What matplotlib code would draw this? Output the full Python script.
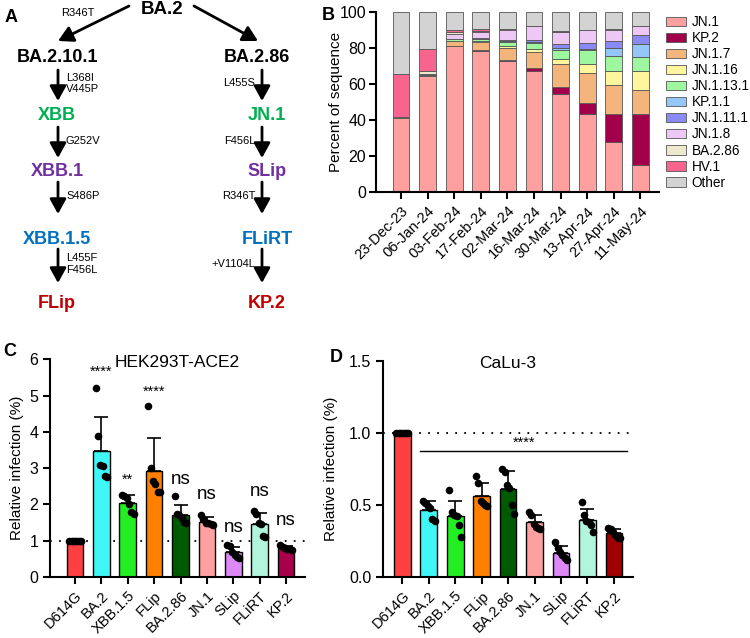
import matplotlib
matplotlib.use("Agg")
import matplotlib.pyplot as plt
import numpy as np

plt.rcParams['font.family'] = ['Liberation Sans', 'DejaVu Sans']

# ---------------- Panel B data ----------------
dates = ["23-Dec-23", "06-Jan-24", "03-Feb-24", "17-Feb-24", "02-Mar-24",
         "16-Mar-24", "30-Mar-24", "13-Apr-24", "27-Apr-24", "11-May-24"]
lineages = ["JN.1", "KP.2", "JN.1.7", "JN.1.16", "JN.1.13.1", "KP.1.1",
            "JN.1.11.1", "JN.1.8", "BA.2.86", "HV.1", "Other"]
lineage_colors = ["#FFA0A0", "#A3004C", "#F4B57C", "#FFF59C", "#9EF79E", "#94C6F8",
                  "#8A8AF5", "#EEC8F5", "#EEE8CC", "#F7658F", "#D3D3D3"]
jn1      = [41.1, 64.3, 81.0, 78.5, 73.0, 67.4, 54.4, 43.3, 27.8, 15.2]
kp2      = [0.0, 0.2, 0.0, 0.3, 0.2, 1.5, 3.7, 6.3, 15.5, 28.3]
jn17     = [0.0, 0.5, 2.8, 4.5, 7.0, 8.9, 13.0, 16.5, 16.0, 13.2]
jn116    = [0.0, 0.1, 0.3, 0.5, 0.8, 1.8, 2.8, 5.2, 7.7, 10.3]
jn1131   = [0.0, 0.1, 0.8, 1.0, 2.5, 3.0, 4.8, 7.8, 8.4, 7.8]
kp11     = [0.0, 0.0, 0.0, 0.2, 0.3, 0.7, 1.3, 0.4, 4.4, 7.4]
jn1111   = [0.0, 0.1, 0.3, 0.3, 0.8, 1.0, 2.4, 3.4, 4.1, 5.2]
jn18     = [0.0, 0.5, 2.5, 3.5, 5.5, 7.7, 6.5, 7.0, 6.3, 4.6]
ba286    = [0.6, 1.5, 1.0, 0.5, 0.2, 0.2, 0.2, 0.1, 0.1, 0.1]
hv1      = [24.0, 12.2, 1.5, 1.2, 0.2, 0.2, 0.1, 0.1, 0.1, 0.1]
series_b = [jn1, kp2, jn17, jn116, jn1131, kp11, jn1111, jn18, ba286, hv1]
other = [100 - sum(s[i] for s in series_b) for i in range(len(dates))]
series_b.append(other)

# ---------------- Panel C / D data ----------------
variants = ["D614G", "BA.2", "XBB.1.5", "FLip", "BA.2.86", "JN.1", "SLip", "FLiRT", "KP.2"]
colors_c = ["#FF4040", "#40F7F7", "#22EE22", "#FF8000", "#005A00", "#FFA0A0",
            "#DD88F5", "#B0F5DC", "#A8004A"]
colors_d = ["#FF4040", "#40F7F7", "#22EE22", "#FF8000", "#005A00", "#FFA0A0",
            "#DD88F5", "#B0F5DC", "#A00000"]
hek_points = [
    [1.0, 1.0, 1.0, 1.0, 1.0, 1.0],
    [5.22, 3.88, 3.08, 3.05, 2.78, 2.75],
    [2.27, 2.22, 2.18, 2.0, 1.78, 1.75],
    [4.70, 3.00, 2.65, 2.55, 2.35, 2.33],
    [2.22, 1.75, 1.70, 1.62, 1.52, 1.50],
    [1.72, 1.60, 1.50, 1.48, 1.45, 1.42],
    [0.87, 0.85, 0.70, 0.62, 0.55, 0.52],
    [1.82, 1.73, 1.50, 1.45, 1.12, 1.10],
    [0.87, 0.82, 0.80, 0.78, 0.76, 0.75],
]
hek_sig = ["", "****", "**", "****", "ns", "ns", "ns", "ns", "ns"]
calu_points = [
    [1.0, 1.0, 1.0, 1.0, 1.0, 1.0],
    [0.53, 0.51, 0.49, 0.48, 0.40, 0.39],
    [0.60, 0.45, 0.43, 0.42, 0.36, 0.28],
    [0.70, 0.65, 0.53, 0.51, 0.50, 0.49],
    [0.75, 0.73, 0.64, 0.62, 0.50, 0.44],
    [0.45, 0.43, 0.37, 0.35, 0.34, 0.33],
    [0.24, 0.20, 0.17, 0.15, 0.13, 0.12],
    [0.52, 0.43, 0.39, 0.38, 0.36, 0.31],
    [0.34, 0.33, 0.31, 0.29, 0.27, 0.27],
]

W, H = 750, 638
fig = plt.figure(figsize=(7.5, 6.38), dpi=100)


def fx(x):
    return x / W


def fy(y):
    return 1 - y / H


# ---------------- Panel A: tree ----------------
def txt(x, y, s, **kw):
    fig.text(fx(x), fy(y), s, **kw)


def arrow(x0, y0, x1, y1):
    fig.add_artist(matplotlib.patches.FancyArrowPatch(
        (fx(x0), fy(y0)), (fx(x1), fy(y1)), transform=fig.transFigure,
        arrowstyle="-|>,head_length=0.6,head_width=0.33", mutation_scale=15,
        color="black", lw=2.0, shrinkA=0, shrinkB=0))


txt(5, 17, "A", fontsize=13, fontweight="bold", va="center", ha="left")
txt(162, 9, "BA.2", fontsize=13.5, fontweight="bold", ha="center", va="center")
txt(78, 13, "R346T", fontsize=8, ha="center", va="center")
arrow(129, 6, 58, 41)
arrow(194, 6, 258, 41)

green, purple, blue, red = "#00B050", "#7030A0", "#0070C0", "#C00000"
left_nodes = [("BA.2.10.1", "black", 57), ("XBB", green, 116), ("XBB.1", purple, 171),
              ("XBB.1.5", blue, 239), ("FLip", red, 303)]
right_nodes = [("BA.2.86", "black", 57), ("JN.1", green, 116), ("SLip", purple, 171),
               ("FLiRT", blue, 239), ("KP.2", red, 303)]
left_x, right_x = 57, 267
for name, c, y in left_nodes:
    txt(left_x, y, name, fontsize=13, fontweight="bold", color=c, ha="center", va="center")
for name, c, y in right_nodes:
    txt(right_x if name != "BA.2.86" else 257, y, name, fontsize=13, fontweight="bold",
        color=c, ha="center", va="center")

arrow_spans = [(70, 101), (127, 158), (182, 214), (249, 283)]
left_muts = ["L368I\nV445P", "G252V", "S486P", "L455F\nF456L"]
right_muts = ["L455S", "F456L", "R346T", "+V1104L"]
for (y0, y1), lm, rm in zip(arrow_spans, left_muts, right_muts):
    arrow(58, y0, 58, y1)
    arrow(262, y0, 262, y1)
    ym = (y0 + y1) / 2 - 2
    txt(66, ym, lm, fontsize=8, ha="left", va="center", linespacing=1.15)
    txt(255, ym, rm, fontsize=8, ha="right", va="center")

# ---------------- Panel B ----------------
axB = fig.add_axes([fx(376), fy(192), fx(659 - 376), (192 - 12) / H])
xb = np.arange(len(dates))
bottom = np.zeros(len(dates))
handles = []
for name, vals, c in zip(lineages, series_b, lineage_colors):
    h = axB.bar(xb, vals, width=0.63, bottom=bottom, color=c, edgecolor="#555555",
                linewidth=0.6, label=name)
    handles.append(h)
    bottom += np.array(vals)
axB.set_xlim(-0.94, 9.7)
axB.set_ylim(0, 100)
axB.set_yticks([0, 20, 40, 60, 80, 100])
axB.set_xticks(xb)
axB.set_xticklabels(dates, rotation=45, ha="right", rotation_mode="anchor", fontsize=10.5)
axB.tick_params(axis="y", labelsize=11.5, width=1.5, length=5, pad=2)
axB.tick_params(axis="x", width=1.5, length=5)
axB.set_ylabel("Percent of sequence", fontsize=11)
axB.yaxis.set_label_coords(-0.115, 0.5)
for sp in ["top", "right"]:
    axB.spines[sp].set_visible(False)
for sp in ["left", "bottom"]:
    axB.spines[sp].set_linewidth(1.5)
leg = axB.legend(handles=handles, loc="upper left", bbox_to_anchor=(1.0, 1.02),
                 frameon=False, fontsize=9.8, handlelength=1.5, handleheight=0.7,
                 labelspacing=0.15, handletextpad=0.4, borderaxespad=0.1)
txt(322, 15, "B", fontsize=13, fontweight="bold", va="center", ha="left")

# ---------------- Panel C / D helper ----------------
offsets = [-0.22, -0.13, -0.04, 0.05, 0.14, 0.22]


def bar_panel(ax, points, colors, ymax, yticks, ytl, title):
    x = np.arange(len(variants))
    means = [np.mean(p) for p in points]
    sds = [np.std(p, ddof=1) for p in points]
    ax.bar(x, means, width=0.63, color=colors, edgecolor="black", linewidth=1.0, zorder=2)
    for i, (m, s) in enumerate(zip(means, sds)):
        if s > 0:
            ax.errorbar(i, m, yerr=[[0], [s]], color="black", capsize=5, elinewidth=1.2,
                        capthick=1.2, zorder=3)
    for i, p in enumerate(points):
        xs = [i + o for o in offsets]
        ax.scatter(xs, p, s=30, color="black", zorder=4, linewidths=0)
    ax.set_xticks(x)
    ax.set_xticklabels(variants, rotation=45, ha="right", rotation_mode="anchor", fontsize=10.5)
    ax.set_ylim(0, ymax)
    ax.set_yticks(yticks)
    ax.set_yticklabels(ytl)
    ax.tick_params(axis="y", labelsize=11.5, width=1.5, length=5)
    ax.tick_params(axis="x", width=1.5, length=5)
    ax.set_ylabel("Relative infection (%)", fontsize=11)
    for sp in ["top", "right"]:
        ax.spines[sp].set_visible(False)
    for sp in ["left", "bottom"]:
        ax.spines[sp].set_linewidth(1.5)
    ax.set_title(title, fontsize=12.5, pad=0, y=0.965)
    return x, means, sds


axC = fig.add_axes([fx(50), fy(577), fx(305 - 50), (577 - 359.3) / H])
bar_panel(axC, hek_points, colors_c, 6, [0, 1, 2, 3, 4, 5, 6],
          ["0", "1", "2", "3", "4", "5", "6"], "HEK293T-ACE2")
axC.set_xlim(-0.95, 8.72)
axC.axhline(1.0, color="black", linestyle=(0, (1, 4)), linewidth=1.3, zorder=1)
sig_y = [0, 5.45, 2.5, 4.9, 2.45, 2.05, 1.13, 2.12, 1.33]
for i, s in enumerate(hek_sig):
    if not s:
        continue
    if s == "ns":
        axC.text(i, sig_y[i], s, fontsize=13.5, ha="center", va="bottom")
    else:
        axC.text(i, sig_y[i], s, fontsize=10.5, ha="center", va="bottom")
axC.yaxis.set_label_coords(-0.1, 0.5)
txt(3, 352, "C", fontsize=13, fontweight="bold", va="center", ha="left")

axD = fig.add_axes([fx(383), fy(577), fx(633 - 383), (577 - 360.7) / H])
bar_panel(axD, calu_points, colors_d, 1.5, [0, 0.5, 1.0, 1.5],
          ["0.0", "0.5", "1.0", "1.5"], "CaLu-3")
axD.set_xlim(-0.73, 8.72)
axD.axhline(1.0, color="black", linestyle=(0, (1, 4)), linewidth=1.3, zorder=1)
axD.plot([1 - 0.32, 8.5], [0.877, 0.877], color="black", lw=1.0)
axD.text(4.6, 0.885, "****", fontsize=10.5, ha="center", va="bottom")
axD.yaxis.set_label_coords(-0.18, 0.5)
txt(330, 357, "D", fontsize=13, fontweight="bold", va="center", ha="left")

fig.savefig("out.png", dpi=100)
